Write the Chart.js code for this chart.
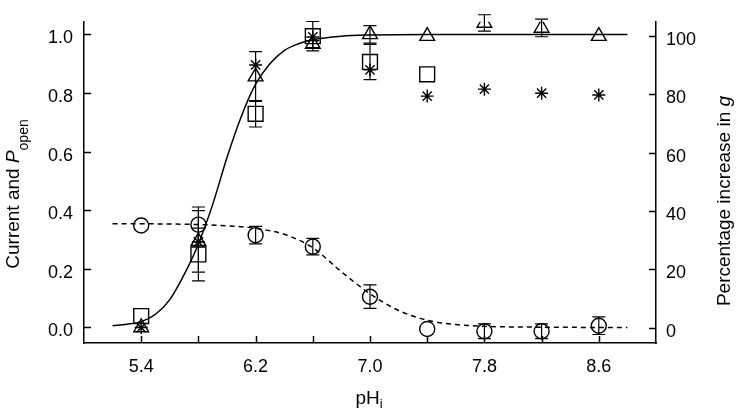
<!DOCTYPE html>
<html lang="en">
<head>
<meta charset="UTF-8">
<title>Current and Popen vs pHi</title>
<script src="https://cdn.jsdelivr.net/npm/chart.js@4.4.1/dist/chart.umd.min.js"></script>
<style>
  html, body { margin: 0; padding: 0; background: #fff; }
  #wrap { width: 738px; height: 412px; }
</style>
</head>
<body>
<div id="wrap"><canvas id="chart" width="738" height="412"></canvas></div>
<script>
// pH values where measurements were taken
var phPoints = [5.4, 5.8, 6.2, 6.6, 7.0, 7.4, 7.8, 8.2, 8.6];

// open probability (circles)
var popen    = [0.348, 0.351, 0.315, 0.276, 0.105, -0.005, -0.013, -0.013, 0.006];
var popenErr = [null, 0.06, 0.03, 0.028, 0.04, null, 0.025, 0.025, 0.03];

// current (squares)
var squarePh  = [5.4, 5.8, 6.2, 6.6, 7.0, 7.4];
var squares   = [0.039, 0.249, 0.729, 0.994, 0.906, 0.864];
var squareErr = [null, 0.09, 0.045, 0.05, 0.06, null];

// current (triangles)
var triangles   = [0.0, 0.294, 0.856, 0.967, 1.0, 0.994, 1.039, 1.022, 0.994];
var triangleErr = [null, 0.105, 0.085, 0.012, 0.03, null, 0.028, 0.03, null];

// percentage increase in g (asterisks, right axis)
var gIncrease    = [0, 29.4, 90.1, 99.7, 88.4, 79.4, 81.8, 80.4, 79.8];
var gIncreaseErr = [null, null, null, null, null, null, null, null, null];

// fitted curves
var currentFitPh = [5.2, 5.3, 5.4, 5.5, 5.6, 5.7, 5.8, 5.9, 6.0, 6.1, 6.2, 6.3, 6.4, 6.5, 6.6, 6.8, 7.0, 7.4, 8.0, 8.8];
var currentFit   = [0.006, 0.011, 0.02, 0.045, 0.095, 0.18, 0.285, 0.42, 0.58, 0.72, 0.83, 0.90, 0.945, 0.968, 0.982, 0.994, 0.998, 1.0, 1.0, 1.0];

var popenFitPh = [5.2, 5.6, 6.0, 6.2, 6.4, 6.6, 6.8, 7.0, 7.2, 7.4, 7.6, 7.8, 8.2, 8.8];
var popenFit   = [0.354, 0.353, 0.347, 0.338, 0.318, 0.272, 0.19, 0.115, 0.058, 0.025, 0.010, 0.004, 0.001, 0.0];

// axes
var xTickLabels = [5.4, 6.2, 7.0, 7.8, 8.6];
var xTickMarks  = [5.4, 5.8, 6.2, 6.6, 7.0, 7.4, 7.8, 8.2, 8.6];
var yTicks  = [0, 0.2, 0.4, 0.6, 0.8, 1.0];
var y2Ticks = [0, 20, 40, 60, 80, 100];

var FONT = '"Liberation Sans", Arial, Helvetica, sans-serif';
Chart.defaults.font.family = FONT;
Chart.defaults.color = '#000';

function pts(xs, ys) {
    return xs.map(function(x, i) { return { x: x, y: ys[i] }; });
}

function setTicks(vals) {
    return function(scale) {
        scale.ticks = vals.map(function(v) { return { value: v }; });
    };
}

// vertical error bars with caps
var errorBars = {
    id: 'errorBars',
    afterDatasetsDraw: function(chart) {
        var ctx = chart.ctx;
        var xs = chart.scales.x;
        chart.data.datasets.forEach(function(ds) {
            if (!ds.errors) return;
            var ys = chart.scales[ds.yAxisID || 'y'];
            ctx.save();
            ctx.strokeStyle = '#000';
            ctx.lineWidth = 1.2;
            ds.data.forEach(function(p, j) {
                var e = ds.errors[j];
                if (e == null) return;
                var x = xs.getPixelForValue(p.x);
                var t = ys.getPixelForValue(p.y + e);
                var b = ys.getPixelForValue(p.y - e);
                ctx.beginPath();
                ctx.moveTo(x, t); ctx.lineTo(x, b);
                ctx.moveTo(x - 6.5, t); ctx.lineTo(x + 6.5, t);
                ctx.moveTo(x - 6.5, b); ctx.lineTo(x + 6.5, b);
                ctx.stroke();
            });
            ctx.restore();
        });
    }
};

// inward tick marks and axis titles
var axisDecor = {
    id: 'axisDecor',
    afterDraw: function(chart) {
        var ctx = chart.ctx;
        var a = chart.chartArea;
        var sx = chart.scales.x, sy = chart.scales.y, sy2 = chart.scales.y2;
        ctx.save();
        ctx.strokeStyle = '#000';
        ctx.lineWidth = 1.5;
        ctx.beginPath();
        xTickMarks.forEach(function(v) {
            var x = Math.round(sx.getPixelForValue(v)) + 0.5;
            ctx.moveTo(x, a.bottom); ctx.lineTo(x, a.bottom - 7);
        });
        yTicks.forEach(function(v) {
            var y = Math.round(sy.getPixelForValue(v)) + 0.5;
            ctx.moveTo(a.left, y); ctx.lineTo(a.left + 7, y);
        });
        y2Ticks.forEach(function(v) {
            var y = Math.round(sy2.getPixelForValue(v)) + 0.5;
            ctx.moveTo(a.right, y); ctx.lineTo(a.right - 7, y);
        });
        ctx.stroke();
        ctx.restore();

        var main = '19px ' + FONT, ital = 'italic 19px ' + FONT, sub = '14px ' + FONT;

        // left title
        drawRich(ctx, 18.5, 194, -Math.PI / 2, [
            { t: 'Current and ', f: main, dy: 0 },
            { t: 'P', f: ital, dy: 0 },
            { t: 'open', f: sub, dy: 9 }
        ]);
        // right title
        drawRich(ctx, 730, 201, -Math.PI / 2, [
            { t: 'Percentage increase in ', f: main, dy: 0 },
            { t: 'g', f: ital, dy: 0 }
        ]);
        // x title
        drawRich(ctx, 369, 404, 0, [
            { t: 'pH', f: main, dy: 0 },
            { t: 'i', f: '13px ' + FONT, dy: 4 }
        ]);
    }
};

function drawRich(ctx, cx, cy, rot, parts) {
    ctx.save();
    ctx.translate(cx, cy);
    ctx.rotate(rot);
    ctx.fillStyle = '#000';
    ctx.textBaseline = 'alphabetic';
    ctx.textAlign = 'left';
    var total = 0;
    parts.forEach(function(p) { ctx.font = p.f; p.w = ctx.measureText(p.t).width; total += p.w; });
    var x = -total / 2;
    parts.forEach(function(p) {
        ctx.font = p.f;
        ctx.fillText(p.t, x, p.dy);
        x += p.w;
    });
    ctx.restore();
}

new Chart(document.getElementById('chart'), {
    type: 'scatter',
    data: {
        datasets: [
            {
                label: 'current fit',
                data: pts(currentFitPh, currentFit),
                showLine: true,
                borderColor: '#000',
                borderWidth: 1.5,
                pointRadius: 0,
                cubicInterpolationMode: 'monotone'
            },
            {
                label: 'Popen fit',
                data: pts(popenFitPh, popenFit),
                showLine: true,
                borderColor: '#000',
                borderWidth: 1.5,
                borderDash: [5, 4],
                pointRadius: 0,
                cubicInterpolationMode: 'monotone'
            },
            {
                label: 'Popen',
                data: pts(phPoints, popen),
                errors: popenErr,
                pointStyle: 'circle',
                pointRadius: 7.5,
                borderColor: '#000',
                backgroundColor: 'rgba(0,0,0,0)',
                borderWidth: 1.4
            },
            {
                label: 'current (squares)',
                data: pts(squarePh, squares),
                errors: squareErr,
                pointStyle: 'rect',
                pointRadius: 10.5,
                borderColor: '#000',
                backgroundColor: 'rgba(0,0,0,0)',
                borderWidth: 1.4
            },
            {
                label: 'current (triangles)',
                data: pts(phPoints, triangles),
                errors: triangleErr,
                pointStyle: 'triangle',
                pointRadius: 8.5,
                borderColor: '#000',
                backgroundColor: 'rgba(0,0,0,0)',
                borderWidth: 1.4
            },
            {
                label: 'increase in g',
                data: pts(phPoints, gIncrease),
                errors: gIncreaseErr,
                yAxisID: 'y2',
                pointStyle: 'star',
                pointRadius: 6.5,
                borderColor: '#000',
                backgroundColor: 'rgba(0,0,0,0)',
                borderWidth: 1.4
            }
        ]
    },
    options: {
        responsive: false,
        animation: false,
        events: [],
        layout: { padding: { top: 12, left: 0, right: 0, bottom: 0 } },
        plugins: { legend: { display: false }, tooltip: { enabled: false } },
        scales: {
            x: {
                type: 'linear',
                min: 5.0,
                max: 9.0,
                afterBuildTicks: setTicks(xTickLabels),
                afterFit: function(s) { s.height = 69; },
                grid: { display: false, drawTicks: false },
                border: { display: true, color: '#000', width: 1.5 },
                ticks: {
                    padding: 13,
                    font: { size: 18 },
                    callback: function(v) { return v.toFixed(1); }
                }
            },
            y: {
                type: 'linear',
                position: 'left',
                min: -0.053,
                max: 1.043,
                afterBuildTicks: setTicks(yTicks),
                afterFit: function(s) { s.width = 84; },
                grid: { display: false, drawTicks: false },
                border: { display: true, color: '#000', width: 1.5 },
                ticks: {
                    padding: 11,
                    labelOffset: 4,
                    font: { size: 18 },
                    callback: function(v) { return v.toFixed(1); }
                }
            },
            y2: {
                type: 'linear',
                position: 'right',
                min: -5.3,
                max: 104.9,
                afterBuildTicks: setTicks(y2Ticks),
                afterFit: function(s) { s.width = 82; },
                grid: { display: false, drawTicks: false },
                border: { display: true, color: '#000', width: 1.5 },
                ticks: {
                    padding: 10,
                    labelOffset: 4,
                    font: { size: 18 },
                    callback: function(v) { return String(v); }
                }
            }
        }
    },
    plugins: [errorBars, axisDecor]
});
</script>
</body>
</html>
